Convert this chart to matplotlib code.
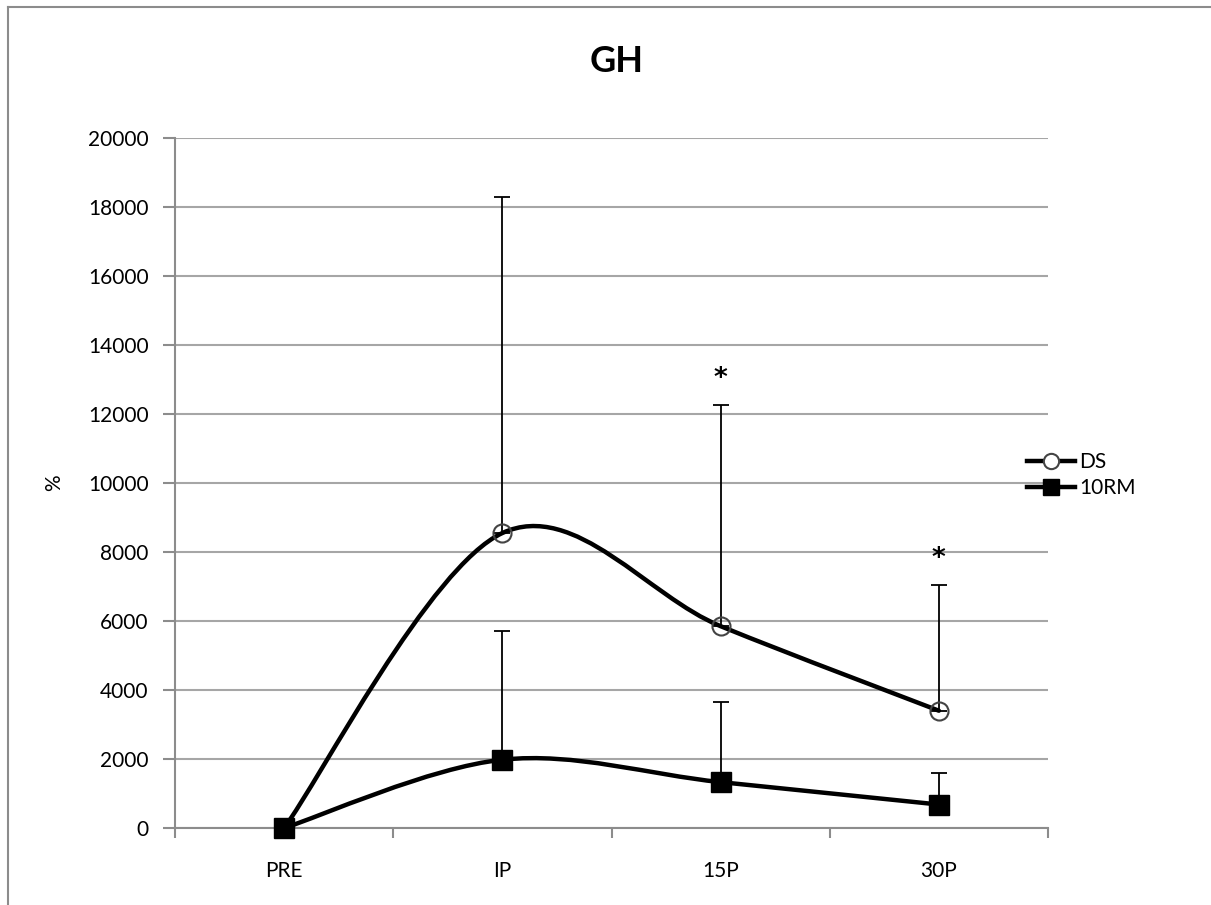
import matplotlib.pyplot as plt
from matplotlib.path import Path
from matplotlib.patches import PathPatch
from matplotlib.lines import Line2D

plt.rcParams['font.family'] = ['Lato', 'DejaVu Sans']

categories = ["PRE", "IP", "15P", "30P"]
ds_values = [0, 8550, 5850, 3400]
ds_err = [0, 9750, 6420, 3630]
rm_values = [0, 1980, 1330, 680]
rm_err = [0, 3730, 2320, 900]
star_points = [2, 3]
yticks = list(range(0, 20001, 2000))


def smooth_path(xs, ys):
    # Excel-like smoothed line: Catmull-Rom as cubic Bezier segments
    pts = list(zip(xs, ys))
    verts = [pts[0]]
    codes = [Path.MOVETO]
    n = len(pts)
    for i in range(n - 1):
        p0 = pts[max(i - 1, 0)]
        p1 = pts[i]
        p2 = pts[i + 1]
        p3 = pts[min(i + 2, n - 1)]
        c1 = (p1[0] + (p2[0] - p0[0]) / 6, p1[1] + (p2[1] - p0[1]) / 6)
        c2 = (p2[0] - (p3[0] - p1[0]) / 6, p2[1] - (p3[1] - p1[1]) / 6)
        verts += [c1, c2, p2]
        codes += [Path.CURVE4] * 3
    return Path(verts, codes)


fig = plt.figure(figsize=(12.11, 9.05), dpi=100)
ax = fig.add_axes([175 / 1211, 1 - 828 / 905, (1048 - 175) / 1211, (828 - 138) / 905])

x = list(range(len(categories)))

# frame of the chart area
fig.add_artist(Line2D([8 / 1211, 8 / 1211], [0, 1 - 7 / 905], transform=fig.transFigure,
                      color="#8c8c8c", lw=1.5))
fig.add_artist(Line2D([8 / 1211, 1], [1 - 7 / 905, 1 - 7 / 905], transform=fig.transFigure,
                      color="#8c8c8c", lw=1.5))

for xi, v, e in zip(x, ds_values, ds_err):
    if e > 0:
        ax.errorbar(xi, v, yerr=[[0], [e]], fmt="none", ecolor="black", elinewidth=1.3,
                    capsize=6, capthick=1.3, zorder=5)
for xi, v, e in zip(x, rm_values, rm_err):
    if e > 0:
        ax.errorbar(xi, v, yerr=[[0], [e]], fmt="none", ecolor="black", elinewidth=1.3,
                    capsize=6, capthick=1.3, zorder=5)

ax.add_patch(PathPatch(smooth_path(x, ds_values), fill=False, lw=3.2, edgecolor="black",
                       zorder=3, capstyle="round", clip_on=False))
ax.add_patch(PathPatch(smooth_path(x, rm_values), fill=False, lw=3.2, edgecolor="black",
                       zorder=3, capstyle="round", clip_on=False))

ax.plot(x, ds_values, "o", ms=13, mfc="none", mec="#444444", mew=1.5, zorder=6, clip_on=False)
ax.plot(x, rm_values, "s", ms=14, color="black", zorder=6, clip_on=False)

for i in star_points:
    ax.text(x[i], ds_values[i] + ds_err[i] + 380, "*", ha="center", va="bottom",
            fontsize=19, fontweight="bold", family="DejaVu Sans")

ax.set_xlim(-0.5, len(categories) - 0.5)
ax.set_ylim(0, 20000)
ax.set_yticks(yticks)
ax.set_yticklabels([str(t) for t in yticks], fontsize=15)
ax.set_xticks(x)
ax.set_xticklabels(categories, fontsize=15)
ax.set_xticks([i - 0.5 for i in range(len(categories) + 1)], minor=True)
ax.tick_params(axis="x", which="major", length=0, pad=24)
ax.tick_params(axis="x", which="minor", length=7, color="#8c8c8c", width=1.5, direction="out")
ax.tick_params(axis="y", length=9, color="#8c8c8c", width=1.5, pad=10)

ax.grid(axis="y", color="#a6a6a6", lw=1.5)
ax.set_axisbelow(True)
for side in ["top", "right"]:
    ax.spines[side].set_visible(False)
ax.spines["left"].set_color("#8c8c8c")
ax.spines["left"].set_linewidth(1.5)
ax.spines["bottom"].set_color("#8c8c8c")
ax.spines["bottom"].set_linewidth(1.5)

fig.text(54 / 1211, 1 - 483 / 905, "%", rotation=90, ha="center", va="center", fontsize=15)
fig.text(617 / 1211, 1 - 62 / 905, "GH", ha="center", va="center", fontsize=26, fontweight="bold")

handles = [
    Line2D([], [], color="black", lw=3.2, marker="o", ms=11, mfc="white", mec="#444444", mew=1.5),
    Line2D([], [], color="black", lw=3.2, marker="s", ms=12, mfc="black", mec="black"),
]
fig.legend(handles, ["DS", "10RM"], loc="center left", bbox_to_anchor=(1008 / 1211, 1 - 475 / 905),
           frameon=False, fontsize=15, handlelength=2.3, handletextpad=0.2, labelspacing=0.3)

fig.savefig("out.png", dpi=100)
